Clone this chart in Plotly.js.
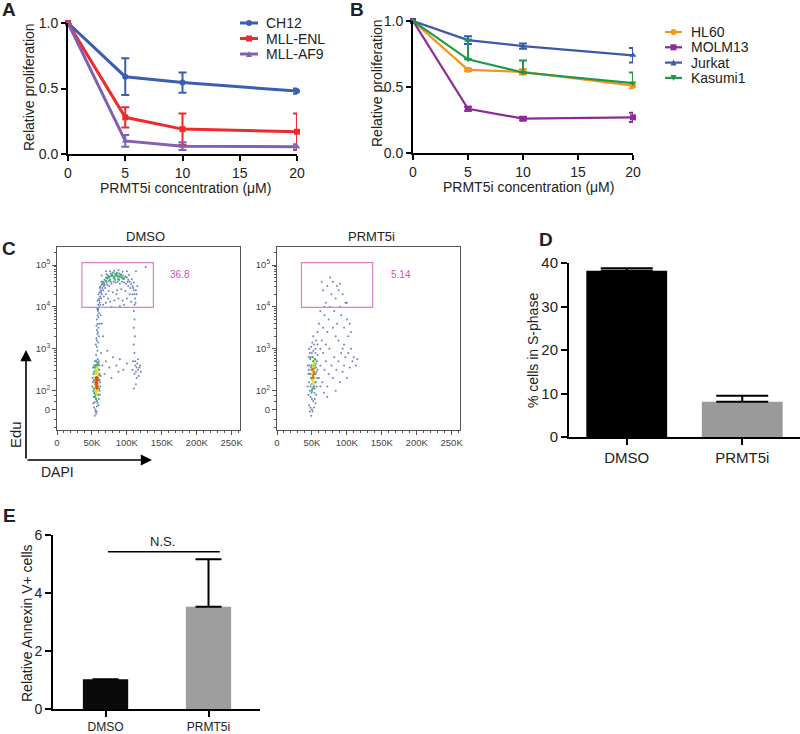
<!DOCTYPE html>
<html>
<head>
<meta charset="utf-8">
<script src="https://cdn.plot.ly/plotly-3.0.1.min.js"></script>
<style>html,body{margin:0;padding:0;background:#fff}#chart{width:800px;height:734px}</style>
</head>
<body>
<div id="chart"></div>
<script>
// ---------- DATA ----------
const concentrations = [0, 5, 10, 20];
const seriesA = ['CH12', 'MLL-ENL', 'MLL-AF9'];
const ch12 = [1.0, 0.59, 0.545, 0.48];
const ch12Err = [0, 0.14, 0.077, 0.02];
const mllEnl = [1.0, 0.28, 0.19, 0.17];
const mllEnlErr = [0, 0.077, 0.12, 0.14];
const mllAf9 = [1.0, 0.10, 0.06, 0.055];
const mllAf9Err = [0, 0.045, 0.03, 0.02];

const seriesB = ['HL60', 'MOLM13', 'Jurkat', 'Kasumi1'];
const hl60 = [1.0, 0.63, 0.615, 0.51];
const hl60Err = [0, 0.01, 0.02, 0.02];
const molm13 = [1.0, 0.335, 0.26, 0.27];
const molm13Err = [0, 0.015, 0.012, 0.035];
const jurkat = [1.0, 0.855, 0.81, 0.74];
const jurkatErr = [0, 0.03, 0.02, 0.055];
const kasumi1 = [1.0, 0.71, 0.61, 0.53];
const kasumi1ErrUp = [0, 0.15, 0.09, 0.08];

const treatments = ['DMSO', 'PRMT5i'];
const sPhasePct = [38.2, 8.1];
const sPhaseErr = [0.6, 1.4];
const annexinRel = [1.03, 3.53];
const annexinErr = [0, 1.63];

const gateLabels = ['36.8', '5.14'];
const dapiTicks = [0, 50000, 100000, 150000, 200000, 250000];
const dapiTickText = ['0', '50K', '100K', '150K', '200K', '250K'];
const eduTickVals = [1.54, 2, 3, 4, 5];
const eduTickText = ['0', '10<sup>2</sup>', '10<sup>3</sup>', '10<sup>4</sup>', '10<sup>5</sup>'];

// flow events (DAPI in K, Edu in display decades), grouped by density colour
const dmsoRed = [[56,2.15],[57,2.2],[56.5,2.25],[57.5,2.1],[56,2.3],[57,2.05],[55.5,2.2],[58,2.25],[56.8,2.18],[57.2,2.32],[56.2,2.1],[57.8,2.28]];
const dmsoYellow = [[55,2.0],[58,2.0],[55,2.4],[58.5,2.4],[54.5,2.15],[59,2.15],[56,1.95],[57.5,2.45],[55.5,2.5],[58,2.55],[56,2.45],[54,2.3],[59.5,2.3],[57,1.9],[55.2,2.32],[58.8,2.1]];
const dmsoGreen = [[54,1.85],[59,1.9],[53,2.05],[60,2.05],[53.5,2.45],[60,2.5],[55,2.6],[58,2.62],[56,1.8],[57,1.75],[53,2.25],[60.5,2.25],[54,2.55],[59,2.65],[55,1.9],[53.5,1.95],[60,2.38],[56.5,2.6],
  [72,4.68],[75,4.72],[78,4.74],[81,4.72],[84,4.75],[87,4.73],[90,4.72],[93,4.7],[76,4.65],[82,4.68],[88,4.66],[70,4.62],[96,4.68],[79,4.77],[85,4.78],[73,4.7],[91,4.76],[67,4.57]];
const dmsoBlue = [[52,1.7],[53,1.6],[55,1.55],[57,1.62],[58,1.7],[60,1.8],[61,2.0],[61.5,2.2],[61,2.4],[60.5,2.6],[52,2.0],[51.5,2.2],[52,2.4],[53,2.6],[54,2.7],[56,2.72],[57,2.68],[58.5,2.75],[55,1.5],[56,1.45],[62,2.1],[51,2.3],[59.5,1.65],[54,1.72],[52.5,1.85],[61.5,1.9],[50.5,2.1],[62.5,2.35],[51.5,2.55],[60,2.7],
  [56,2.85],[58,2.95],[57,3.05],[59,3.15],[56.5,3.25],[58,3.35],[57,3.45],[59.5,3.5],[58,3.6],[57,3.7],[59,3.75],[60,3.85],[58.5,3.9],[57.5,3.95],[60.5,4.0],[59,4.05],[61,4.1],[58,4.15],[60,4.2],[62,4.25],[59.5,4.3],[61,4.35],[63,4.4],[62,4.48],[64,4.52],[65,4.55],[66,4.6],[67,4.5],[62.5,3.8],[61,3.6],[55.5,3.1],[60,3.3],[57,3.2],[58,3.8],[62,4.05],[63,4.2],[59,3.95],[60.5,4.15],[61.5,4.45],[63.5,4.6],[58.5,3.4],[56.5,3.55],
  [68,4.65],[70,4.7],[73,4.75],[74,4.62],[77,4.8],[80,4.82],[83,4.8],[86,4.82],[89,4.8],[92,4.78],[95,4.75],[98,4.72],[100,4.7],[102,4.65],[104,4.6],[106,4.55],[108,4.5],[109,4.45],[110,4.4],[111,4.3],[112,4.2],[112.5,4.1],[111,4.05],[108,4.3],[105,4.45],[102,4.5],[99,4.55],[96,4.58],[93,4.6],[90,4.55],[87,4.6],[84,4.58],[81,4.6],[78,4.55],[75,4.5],[72,4.52],[69,4.45],[66,4.4],[64,4.3],[67,4.25],[70,4.3],[74,4.38],[80,4.35],[86,4.4],[92,4.42],[98,4.38],[104,4.3],[100,4.2],[94,4.15],[88,4.2],[82,4.15],[76,4.12],[70,4.1],[66,4.05],[78,4.0],[90,4.02],[96,4.05],[106,4.12],[85,4.3],[73,4.2],[115,4.5],[114,4.3],[127,4.95],[113,4.85],[88,4.88],[70,4.85],[64,4.75],[100,4.85],
  [71,4.78],[76,4.85],[82,4.86],[94,4.84],[103,4.76],[107,4.66],[110,4.58],[113,4.4],[101,4.6],[95,4.66],[89,4.64],[83,4.64],[77,4.6],[71,4.58],[68,4.52],[65,4.45],[63,4.35],
  [110,3.9],[111,3.7],[110,3.5],[111.5,3.3],[110,3.1],[111,2.9],[109,2.7],[112,2.6],[114,2.55],[116,2.5],[113,2.45],[115,2.65],[118,2.55],[111,2.4],[117,2.35],[114,2.3],[112,2.7],[116,2.75],[119,2.6],[108,2.5],[113,2.15],[110,2.05],[120,2.45],
  [65,2.6],[70,2.7],[75,2.55],[80,2.8],[85,2.6],[90,2.75],[95,2.5],[100,2.65],[68,2.4],[78,2.3],[88,2.45],[63,2.9],[72,2.95],[66,3.3],[64,3.6],[54,1.4],[57,1.5]];

const prmtRed = [[51.5,2.35],[52.5,2.45],[52,2.3],[53,2.4],[51,2.5],[52,2.52]];
const prmtYellow = [[50.5,2.25],[53.5,2.3],[52,2.6],[51,2.15],[53,2.55],[50,2.4],[54,2.45],[52.5,2.2],[53.5,2.65]];
const prmtGreen = [[49,2.3],[55,2.4],[50,2.6],[54,2.6],[51,2.05],[53,2.1],[49.5,2.5],[55,2.2],[52,2.7],[50,2.0],[54.5,2.75],[51,2.8],[48.5,2.4],[55.5,2.55]];
const prmtBlue = [[47,2.0],[46,2.2],[47,2.4],[46.5,2.6],[48,2.8],[50,2.9],[52,2.95],[55,2.9],[57,2.7],[58,2.5],[57.5,2.3],[57,2.1],[56,1.9],[54,1.8],[52,1.75],[50,1.8],[48,1.85],[46,1.65],[48,1.6],[50,1.55],[53,1.6],[55,1.7],[45,2.4],[44,2.1],[49,2.15],[53.5,1.95],[56,2.65],[48.5,2.55],[47.5,2.75],[45.5,2.8],[46,3.0],[49,3.05],[53,3.1],[55,3.0],[50.5,3.15],[44,2.6],[45,1.9],[58,2.85],[56,3.2],[52,3.3],[49,1.4],[51,1.5],[47,1.5],[48,2.1],[45.5,2.5],[47,2.9],[56.5,2.45],[54,2.05],[49.5,1.95],
  [60,2.3],[62,2.6],[65,2.2],[66,2.9],[68,2.5],[70,2.7],[72,2.1],[74,2.4],[75,3.0],[78,2.6],[80,2.3],[82,2.8],[84,2.0],[85,2.5],[88,2.7],[90,2.2],[92,2.9],[94,2.45],[96,2.6],[98,2.8],[100,2.3],[102,2.9],[104,2.55],[106,3.0],[108,2.7],[110,2.8],[113,2.6],[115,2.75],[96,3.1],[88,3.2],[62,2.1],[67,1.95],[72,1.85],
  [58,3.4],[60,3.6],[62,3.9],[64,3.2],[66,3.5],[68,3.8],[70,4.1],[72,3.4],[74,3.7],[76,4.0],[78,4.3],[80,3.5],[82,3.9],[84,4.2],[86,3.6],[88,4.4],[90,4.0],[92,3.8],[94,4.3],[96,3.5],[98,4.1],[100,3.7],[102,3.3],[104,3.6],[66,4.4],[72,4.5],[80,4.6],[90,4.55],[64,4.6],[76,4.7],[86,4.5],[100,4.1],[62,3.0],[70,3.1],[58,3.1],[68,4.0],[84,3.3],[106,3.4],[94,3.0]];

// ---------- HELPERS ----------
const W = 800, H = 734;
const dx = (a, b) => [a / W, b / W];
const dy = (top, bottom) => [1 - bottom / H, 1 - top / H];
const px = x => x / W;
const py = y => 1 - y / H;
const FONT = 'Liberation Sans, Arial, sans-serif';

const colorsA = ['#3a5fb0', '#ee2a2a', '#8160b4'];
const symbolsA = ['circle', 'square', 'triangle-up'];
const colorsB = ['#f7941d', '#8c2a98', '#3d58a8', '#1a9a4a'];
const symbolsB = ['circle', 'square', 'triangle-up', 'triangle-down'];

function lineTrace(name, y, err, color, symbol, xa, ya, width, errMinus) {
  const e = {type: 'data', array: err, color: color, thickness: 2, width: 4, visible: true};
  if (errMinus) { e.symmetric = false; e.arrayminus = errMinus; }
  return {x: concentrations, y: y, name: name, type: 'scatter', mode: 'lines+markers', showlegend: false,
    line: {color: color, width: width}, marker: {color: color, size: 6, symbol: symbol},
    error_y: e, xaxis: xa, yaxis: ya, cliponaxis: false};
}
function flowTrace(pts, color, xa, ya, size) {
  return {x: pts.map(p => p[0] * 1000), y: pts.map(p => p[1]), type: 'scatter', mode: 'markers',
    marker: {color: color, size: size || 2}, xaxis: xa, yaxis: ya, showlegend: false, hoverinfo: 'skip'};
}

const data = [
  lineTrace(seriesA[0], ch12, ch12Err, colorsA[0], symbolsA[0], 'x', 'y', 3),
  lineTrace(seriesA[1], mllEnl, mllEnlErr, colorsA[1], symbolsA[1], 'x', 'y', 3),
  lineTrace(seriesA[2], mllAf9, mllAf9Err, colorsA[2], symbolsA[2], 'x', 'y', 3),
  lineTrace(seriesB[0], hl60, hl60Err, colorsB[0], symbolsB[0], 'x2', 'y2', 2.2),
  lineTrace(seriesB[1], molm13, molm13Err, colorsB[1], symbolsB[1], 'x2', 'y2', 2.2),
  lineTrace(seriesB[2], jurkat, jurkatErr, colorsB[2], symbolsB[2], 'x2', 'y2', 2.2),
  lineTrace(seriesB[3], kasumi1, kasumi1ErrUp, colorsB[3], symbolsB[3], 'x2', 'y2', 2.2, [0, 0, 0, 0]),
  flowTrace(dmsoBlue, 'rgba(45,75,170,0.7)', 'x3', 'y3'),
  flowTrace(dmsoGreen, '#3cb060', 'x3', 'y3', 2.4),
  flowTrace(dmsoYellow, '#d8d838', 'x3', 'y3', 2.6),
  flowTrace(dmsoRed, '#e04a20', 'x3', 'y3', 2.6),
  flowTrace(prmtBlue, 'rgba(45,75,170,0.7)', 'x4', 'y4'),
  flowTrace(prmtGreen, '#3cb060', 'x4', 'y4', 2.4),
  flowTrace(prmtYellow, '#d8d838', 'x4', 'y4', 2.6),
  flowTrace(prmtRed, '#e07020', 'x4', 'y4', 2.6),
  {type: 'bar', x: treatments, y: sPhasePct, width: 0.7, xaxis: 'x5', yaxis: 'y5', showlegend: false,
    marker: {color: ['#000000', '#9a9a9a']},
    error_y: {type: 'data', array: sPhaseErr, symmetric: false, arrayminus: [0, 0], color: '#000', thickness: 2, width: 26}},
  {type: 'bar', x: treatments, y: annexinRel, width: 0.44, xaxis: 'x6', yaxis: 'y6', showlegend: false,
    marker: {color: ['#0a0a0a', '#9d9d9d']},
    error_y: {type: 'data', array: annexinErr, symmetric: false, arrayminus: [0, 0], color: '#000', thickness: 2, width: 13}}
];

const baseLineAxis = {showline: true, linecolor: '#000', linewidth: 2, ticks: 'outside', ticklen: 5, tickwidth: 2,
  tickcolor: '#000', showgrid: false, zeroline: false, tickfont: {family: FONT, size: 14, color: '#222'}, fixedrange: true};

function flowX(domain) {
  return {domain: domain, range: [0, 262000], showline: true, mirror: true, linecolor: '#555', linewidth: 1,
    ticks: 'outside', ticklen: 4, tickwidth: 1, tickcolor: '#555', tickmode: 'array', tickvals: dapiTicks, ticktext: dapiTickText,
    minor: {ticks: 'outside', dtick: 10000, tick0: 0, ticklen: 2, tickcolor: '#555'},
    showgrid: false, zeroline: false, tickfont: {family: FONT, size: 9.5, color: '#444'}};
}
const eduMinor = [];
[2, 3, 4].forEach(d => { for (let k = 2; k <= 9; k++) eduMinor.push(d + Math.log10(k)); });
[1.12, 1.3, 1.75, 1.88, 5.3].forEach(v => eduMinor.push(v));
function flowY(domain) {
  return {domain: domain, range: [1.06, 5.43], showline: true, mirror: true, linecolor: '#555', linewidth: 1,
    ticks: 'outside', ticklen: 4, tickwidth: 1, tickcolor: '#555', tickmode: 'array', tickvals: eduTickVals, ticktext: eduTickText,
    minor: {ticks: 'outside', tickmode: 'array', tickvals: eduMinor, ticklen: 2, tickcolor: '#555'},
    showgrid: false, zeroline: false, tickfont: {family: FONT, size: 9.5, color: '#444'}};
}

const shapes = [
  {type: 'rect', xref: 'x3', yref: 'y3', x0: 35700, x1: 138000, y0: 3.99, y1: 5.055, line: {color: '#d77fc9', width: 1.2}},
  {type: 'rect', xref: 'x4', yref: 'y4', x0: 35000, x1: 137000, y0: 3.99, y1: 5.055, line: {color: '#d77fc9', width: 1.2}},
  {type: 'line', xref: 'x5', yref: 'y5', x0: 0.113, x1: 0.87, y0: 42.1, y1: 42.1, line: {color: '#000', width: 2}},
  {type: 'line', xref: 'x6', yref: 'y6', x0: 0.024, x1: 1.11, y0: 5.42, y1: 5.42, line: {color: '#000', width: 1.5}}
];

const layout = {
  width: W, height: H, margin: {l: 0, r: 0, t: 0, b: 0}, paper_bgcolor: '#fff', plot_bgcolor: 'rgba(0,0,0,0)',
  font: {family: FONT, color: '#222'}, showlegend: false,
  xaxis: Object.assign({}, baseLineAxis, {domain: dx(68, 297), range: [0, 20], tickvals: [0, 5, 10, 15, 20], anchor: 'y'}),
  yaxis: Object.assign({}, baseLineAxis, {domain: dy(23, 154), range: [0, 1], tickvals: [0, 0.5, 1], tickformat: '.1f', anchor: 'x'}),
  xaxis2: Object.assign({}, baseLineAxis, {domain: dx(413, 633), range: [0, 20], tickvals: [0, 5, 10, 15, 20], anchor: 'y2'}),
  yaxis2: Object.assign({}, baseLineAxis, {domain: dy(21, 153), range: [0, 1], tickvals: [0, 0.5, 1], tickformat: '.1f', anchor: 'x2'}),
  xaxis3: Object.assign(flowX(dx(57, 240)), {anchor: 'y3'}),
  yaxis3: Object.assign(flowY(dy(247, 430)), {anchor: 'x3'}),
  xaxis4: Object.assign(flowX(dx(277, 460)), {anchor: 'y4'}),
  yaxis4: Object.assign(flowY(dy(247, 430)), {anchor: 'x4'}),
  xaxis5: Object.assign({}, baseLineAxis, {domain: dx(569, 800), range: [-0.5, 1.5], type: 'category', anchor: 'y5', ticklen: 6,
    tickfont: {family: FONT, size: 15, color: '#222'}}),
  yaxis5: Object.assign({}, baseLineAxis, {domain: dy(263, 437), range: [0, 40], tickvals: [0, 10, 20, 30, 40], anchor: 'x5', ticklen: 6,
    tickfont: {family: FONT, size: 15, color: '#222'}}),
  xaxis6: Object.assign({}, baseLineAxis, {domain: dx(53, 260), range: [-0.51, 1.5], type: 'category', anchor: 'y6', ticklen: 6,
    ticklabelstandoff: 0, tickfont: {family: FONT, size: 12, color: '#222'}}),
  yaxis6: Object.assign({}, baseLineAxis, {domain: dy(535, 709), range: [0, 6], tickvals: [0, 2, 4, 6], anchor: 'x6', ticklen: 6,
    tickfont: {family: FONT, size: 14, color: '#222'}}),
  shapes: shapes,
  annotations: []
};

const A = layout.annotations;
function txt(text, x, y, size, opts) {
  A.push(Object.assign({text: text, x: px(x), y: py(y), xref: 'paper', yref: 'paper', showarrow: false,
    font: {family: FONT, size: size, color: '#222'}, xanchor: 'center', yanchor: 'middle'}, opts || {}));
}

// manual legends (line sample + marker + name)
function legendMarker(symbol, cx, cy, color) {
  const s = 3;
  if (symbol === 'circle') return {type: 'circle', xref: 'paper', yref: 'paper', x0: px(cx - s), x1: px(cx + s), y0: py(cy + s), y1: py(cy - s), fillcolor: color, line: {width: 0}};
  if (symbol === 'square') return {type: 'rect', xref: 'paper', yref: 'paper', x0: px(cx - s), x1: px(cx + s), y0: py(cy + s), y1: py(cy - s), fillcolor: color, line: {width: 0}};
  const up = symbol === 'triangle-up';
  const yb = up ? cy + s : cy - s, yt = up ? cy - s : cy + s;
  return {type: 'path', xref: 'paper', yref: 'paper', path: `M ${px(cx - s)},${py(yb)} L ${px(cx + s)},${py(yb)} L ${px(cx)},${py(yt)} Z`, fillcolor: color, line: {width: 0}};
}
function addLegend(names, colors, symbols, x0, x1, textX, yTop, step, lw) {
  names.forEach((n, i) => {
    const y = yTop + i * step;
    shapes.push({type: 'line', xref: 'paper', yref: 'paper', x0: px(x0), x1: px(x1), y0: py(y), y1: py(y), line: {color: colors[i], width: lw}});
    shapes.push(legendMarker(symbols[i], (x0 + x1) / 2, y, colors[i]));
    txt(n, textX, y, 14, {xanchor: 'left'});
  });
}
addLegend(seriesA, colorsA, symbolsA, 240, 258, 264, 23, 15.5, 3);
addLegend(seriesB, colorsB, symbolsB, 665, 682, 689, 32, 15.3, 2.2);

// panel letters
txt('<b>A</b>', 9, 10, 19);
txt('<b>B</b>', 357, 9, 19);
txt('<b>C</b>', 9, 248, 19);
txt('<b>D</b>', 546, 240, 19);
txt('<b>E</b>', 9, 515, 19);
// axis titles
txt('PRMT5i concentration (μM)', 185, 188, 14);
txt('PRMT5i concentration (μM)', 528, 187, 14);
txt('Relative proliferation', 29, 87, 14, {textangle: -90});
txt('Relative proliferation', 377, 83, 14, {textangle: -90});
txt('% cells in S-phase', 533, 351, 14, {textangle: -90});
txt('Relative Annexin V+ cells', 27, 623, 14, {textangle: -90});
// flow titles & gates
txt('DMSO', 145, 237, 13);
txt('PRMT5i', 371, 237, 13);
A.push({text: gateLabels[0], x: 176000, y: 4.78, xref: 'x3', yref: 'y3', showarrow: false, font: {family: FONT, size: 10, color: '#c755b5'}});
A.push({text: gateLabels[1], x: 177500, y: 4.78, xref: 'x4', yref: 'y4', showarrow: false, font: {family: FONT, size: 10, color: '#c755b5'}});
// Edu / DAPI arrows
A.push({x: px(26), y: py(350), xref: 'paper', yref: 'paper', ax: 0, ay: 110, text: '', showarrow: true,
  arrowhead: 2, arrowsize: 1.4, arrowwidth: 1.6, arrowcolor: '#000'});
A.push({x: px(152), y: py(460), xref: 'paper', yref: 'paper', ax: -126, ay: 0, text: '', showarrow: true,
  arrowhead: 2, arrowsize: 1.4, arrowwidth: 1.6, arrowcolor: '#000'});
txt('Edu', 15, 435, 15, {textangle: -90});
txt('DAPI', 58, 472, 14);
// significance
A.push({text: '****', x: 0.49, y: 43.2, xref: 'x5', yref: 'y5', showarrow: false, yanchor: 'bottom', font: {family: FONT, size: 14, color: '#000'}});
A.push({text: 'N.S.', x: 0.55, y: 5.76, xref: 'x6', yref: 'y6', showarrow: false, font: {family: FONT, size: 13, color: '#222'}});

Plotly.newPlot('chart', data, layout, {displayModeBar: false, staticPlot: true});
</script>
</body>
</html>
